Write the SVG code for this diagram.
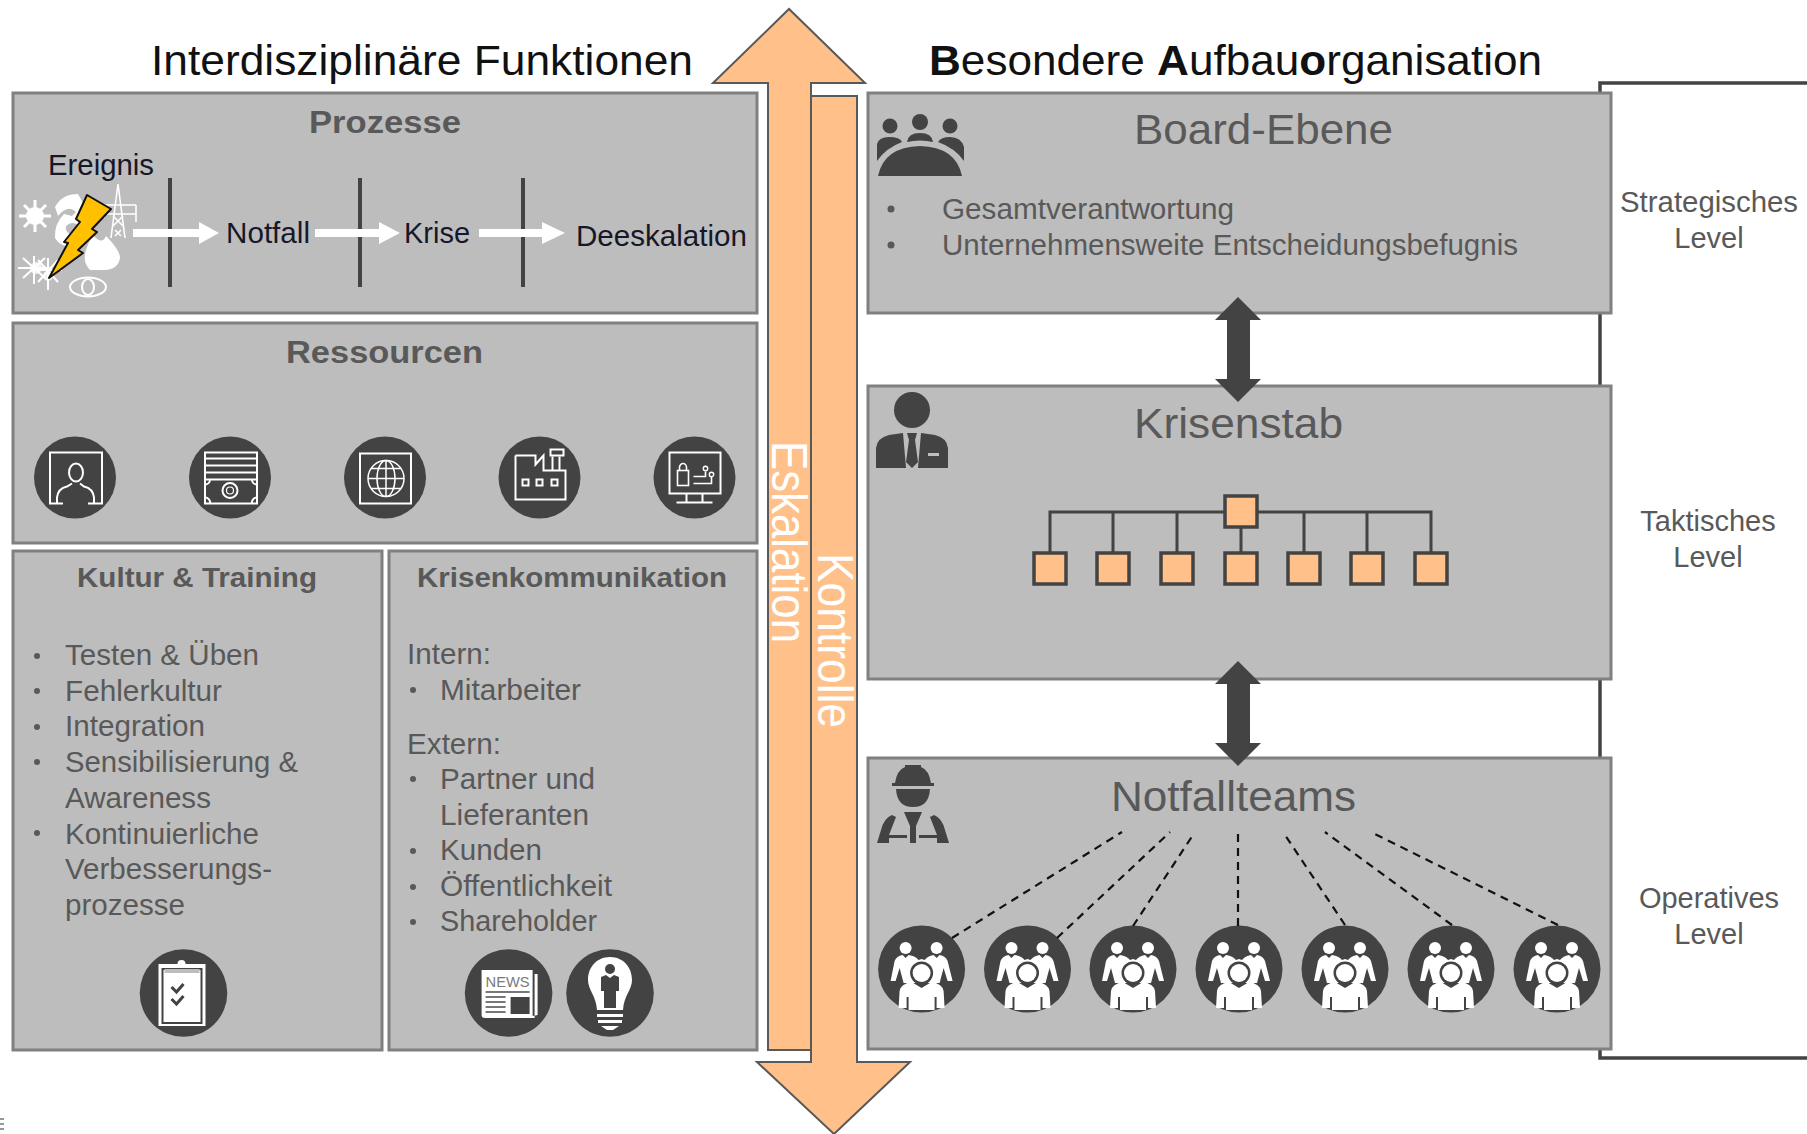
<svg xmlns="http://www.w3.org/2000/svg" xmlns:xlink="http://www.w3.org/1999/xlink" width="1807" height="1134" viewBox="0 0 1807 1134">
<style>
text{font-family:"Liberation Sans",Arial,sans-serif;fill:#595959}
.panel{fill:#bdbdbd;stroke:#808080;stroke-width:3}
.orange{fill:#ffc08a;stroke:#595959;stroke-width:2}
.dark{fill:#434343}
.ic{fill:none;stroke:#fff;stroke-width:2}
.head{font-size:32px;font-weight:bold}
.sub{font-size:28px;font-weight:bold}
.big{font-size:42px}
.body{font-size:29px}
.proc{font-size:29px;fill:#17172a}
.title{font-size:42px;fill:#111}
.esc{font-size:50px;fill:#fff}
.side{font-size:29px;text-anchor:middle}
.dash{fill:none;stroke:#111;stroke-width:2.2;stroke-dasharray:8 6}
.org{fill:none;stroke:#434343;stroke-width:3}
.box{fill:#ffc08a;stroke:#434343;stroke-width:3.5}
.vbar{fill:none;stroke:#434343;stroke-width:4}
.bull{fill:#595959}
</style>
<defs>
<g id="team">
<circle class="dark" r="43.5"/>
<g fill="#fff">
<circle cx="-16" cy="-21" r="6"/><circle cx="15" cy="-21" r="6"/>
<path d="M-31,12 L-27,-8 Q-25,-13 -19,-14 L-16,-11 L-13,-14 Q-6,-13 -3,-9 L0,-10 L3,-9 Q6,-13 12,-14 L15,-11 L18,-14 Q24,-13 26,-8 L31,12 H26 L22,-1 L18,14 H-18 L-22,-1 L-26,12 Z"/>
<path d="M-23,39 L-22,22 Q-21,15 -10,13 L0,19 L10,13 Q21,15 22,22 L23,39 H15 V28 H13 V41 H-13 V28 H-15 V39 Z"/>
</g>
<circle cy="4" r="11.5" fill="#434343"/><circle cy="4" r="9" fill="#fff"/>
</g>
</defs>

<g id="titel-links"><text class="title" x="151" y="75" textLength="542" lengthAdjust="spacingAndGlyphs">Interdisziplinäre Funktionen</text></g>
<g id="titel-rechts"><text class="title" x="929" y="75" textLength="613" lengthAdjust="spacingAndGlyphs"><tspan font-weight="bold">B</tspan>esondere <tspan font-weight="bold">A</tspan>ufbau<tspan font-weight="bold">o</tspan>rganisation</text></g>

<g id="bracket"><path d="M1807,83 H1600 V1058 H1807" fill="none" stroke="#434343" stroke-width="3.5"/></g>

<g id="prozesse">
<rect class="panel" x="13" y="93" width="744" height="220"/>
<text class="head" x="309" y="133" textLength="152" lengthAdjust="spacingAndGlyphs">Prozesse</text>
<text class="proc" x="48" y="175" textLength="106" lengthAdjust="spacingAndGlyphs">Ereignis</text>
<text class="proc" x="226" y="243" textLength="84" lengthAdjust="spacingAndGlyphs">Notfall</text>
<text class="proc" x="404" y="243" textLength="66" lengthAdjust="spacingAndGlyphs">Krise</text>
<text class="proc" x="576" y="246" textLength="171" lengthAdjust="spacingAndGlyphs">Deeskalation</text>
<path class="vbar" d="M170,178 V287 M360,178 V287 M523,178 V287"/>
<g id="ereignis-icon">
<g fill="none" stroke="#fff" stroke-width="3">
<path d="M19,216 H51 M35,200 V232 M24,205 L46,227 M46,205 L24,227"/>
<path d="M18,268 H50 M34,256 V284 M23,258 L45,278 M45,258 L23,278 M34,270 H62 M48,258 V290 M38,260 L58,282 M58,260 L38,282" stroke-width="2"/>
<path d="M118,184 L111,238 M118,184 L125,238 M104,205 H136 M106,214 H136 M104,205 V218 M136,205 V222 M113,226 L123,216 M123,226 L113,216 M115,236 L121,230 M121,236 L115,230" stroke-width="1.6"/>
</g>
<circle cx="35" cy="216" r="9" fill="#fff"/><circle cx="36" cy="268" r="6" fill="#fff" opacity=".8"/><circle cx="48" cy="276" r="5" fill="#fff" opacity=".8"/>
<path d="M78,194 Q62,194 55,207 L58,216 Q68,204 76,212 L72,216 L64,214 Q54,224 55,238 Q60,246 68,246 L74,236 Q64,232 66,226 Q72,220 80,226 L88,212 Z" fill="#fff"/>
<path d="M92,234 Q102,246 106,236 Q120,250 120,258 Q118,270 104,270 H90 Q82,262 86,250 Z" fill="#fff"/>
<ellipse cx="88" cy="287" rx="18" ry="9.5" fill="none" stroke="#fff" stroke-width="2"/><ellipse cx="88" cy="287" rx="6" ry="8" fill="none" stroke="#fff" stroke-width="2"/>
<path d="M87,195 L111,209 L92,229 L97,232 L78,250 L83,253 L49,278 L68,243 L64,242 L80,222 L76,219 Z" fill="#ffc000" stroke="#111" stroke-width="2" stroke-linejoin="round"/>
</g>
</g>

<g id="ressourcen">
<rect class="panel" x="13" y="323" width="744" height="220"/>
<text class="head" x="286" y="363" textLength="197" lengthAdjust="spacingAndGlyphs">Ressourcen</text>
<g id="res-person" transform="translate(75,477.5)"><circle class="dark" r="41"/><g class="ic"><path d="M-18,26 H-25 V-25 H27 V26 H19"/><ellipse cx="1" cy="-5" rx="7" ry="9"/><path d="M-18,26 V20 Q-17,11 -8,9 L-3,6 M19,26 V20 Q18,11 9,9 L5,6 M-18,26 H-12 M19,26 H13"/></g></g>
<g id="res-geld" transform="translate(230,477.5)"><circle class="dark" r="41"/><g class="ic"><rect x="-25" y="-25" width="52" height="51"/><path d="M-25,-19 H27 M-25,-12 H27 M-25,-5 H27 M-25,2 H27"/><circle cy="13" r="7.5"/><circle cy="13" r="3.5" stroke-width="1.2"/><path d="M-25,7 A5,5 0 0 0 -20,2 M27,7 A5,5 0 0 1 22,2 M-25,20 A5,5 0 0 1 -20,26 M27,20 A5,5 0 0 0 22,26"/></g></g>
<g id="res-globus" transform="translate(385,477.5)"><circle class="dark" r="41"/><g class="ic"><rect x="-25" y="-24" width="51" height="50"/><g stroke-width="1.5"><circle cx="1" cy="1" r="18"/><ellipse cx="1" cy="1" rx="9" ry="18"/><path d="M1,-17 V19 M-17,1 H19 M-14,-9 H16 M-14,11 H16"/></g></g></g>
<g id="res-fabrik" transform="translate(539.5,477.5)"><circle class="dark" r="41"/><g class="ic"><path d="M-24,-22 V22 H26 V-7 H13 V-21 M20,-21 V-7 M-24,-22 H-4 V-13 L4,-22 V-7 H13"/><rect x="11" y="-28" width="13" height="6"/><rect x="-17" y="2" width="6" height="6"/><rect x="-3" y="2" width="6" height="6"/><rect x="12" y="2" width="6" height="6"/></g></g>
<g id="res-monitor" transform="translate(694.5,477.5)"><circle class="dark" r="41"/><g class="ic"><rect x="-25" y="-25" width="51" height="41"/><path d="M-8,16 V25 M8,16 V25 M-18,25 H18"/><rect x="-17" y="-7" width="11" height="15" stroke-width="1.6"/><path d="M-15,-7 V-10 A3.5,4 0 0 1 -8,-10 V-7" stroke-width="1.6"/><path d="M-1,-1 H11 V-6 M-1,6 H17 V-1" stroke-width="1.6"/><circle cx="11" cy="-9" r="2.2" stroke-width="1.4"/><circle cx="17" cy="-3" r="2.2" stroke-width="1.4"/></g></g>
</g>

<g id="kultur">
<rect class="panel" x="13" y="551" width="369" height="499"/>
<text class="sub" x="77" y="587" textLength="240" lengthAdjust="spacingAndGlyphs">Kultur &amp; Training</text>
<g class="bull"><circle cx="37" cy="656" r="3"/><circle cx="37" cy="691" r="3"/><circle cx="37" cy="727" r="3"/><circle cx="37" cy="762" r="3"/><circle cx="37" cy="833" r="3"/></g>
<text class="body" x="65" y="665" textLength="194" lengthAdjust="spacingAndGlyphs">Testen &amp; Üben</text>
<text class="body" x="65" y="701" textLength="157" lengthAdjust="spacingAndGlyphs">Fehlerkultur</text>
<text class="body" x="65" y="736" textLength="140" lengthAdjust="spacingAndGlyphs">Integration</text>
<text class="body" x="65" y="772" textLength="233" lengthAdjust="spacingAndGlyphs">Sensibilisierung &amp;</text>
<text class="body" x="65" y="808" textLength="146" lengthAdjust="spacingAndGlyphs">Awareness</text>
<text class="body" x="65" y="844" textLength="194" lengthAdjust="spacingAndGlyphs">Kontinuierliche</text>
<text class="body" x="65" y="879" textLength="207" lengthAdjust="spacingAndGlyphs">Verbesserungs-</text>
<text class="body" x="65" y="915" textLength="120" lengthAdjust="spacingAndGlyphs">prozesse</text>
<g id="icon-klemmbrett" transform="translate(183.5,993)"><circle class="dark" r="43.8"/>
<rect x="-25" y="-29" width="47" height="62" fill="#fff"/>
<rect x="-21" y="-24" width="39" height="54" fill="none" stroke="#434343" stroke-width="2"/>
<rect x="-18" y="-21" width="33" height="48" fill="#fff"/>
<path d="M-19,-24 H16 V-20 H-19 Z" fill="#bdbdbd"/>
<circle cx="-2" cy="-29" r="4" fill="#fff"/>
<path d="M-12,-6 L-7,-1 L0,-9 M-12,6 L-7,11 L0,3" fill="none" stroke="#434343" stroke-width="3"/></g>
</g>

<g id="krisenkommunikation">
<rect class="panel" x="389" y="551" width="368" height="499"/>
<text class="sub" x="417" y="587" textLength="310" lengthAdjust="spacingAndGlyphs">Krisenkommunikation</text>
<g class="bull"><circle cx="413" cy="690" r="3"/><circle cx="413" cy="779" r="3"/><circle cx="413" cy="851" r="3"/><circle cx="413" cy="887" r="3"/><circle cx="413" cy="922" r="3"/></g>
<text class="body" x="407" y="664" textLength="84" lengthAdjust="spacingAndGlyphs">Intern:</text>
<text class="body" x="440" y="700" textLength="141" lengthAdjust="spacingAndGlyphs">Mitarbeiter</text>
<text class="body" x="407" y="754" textLength="94" lengthAdjust="spacingAndGlyphs">Extern:</text>
<text class="body" x="440" y="789" textLength="155" lengthAdjust="spacingAndGlyphs">Partner und</text>
<text class="body" x="440" y="825" textLength="149" lengthAdjust="spacingAndGlyphs">Lieferanten</text>
<text class="body" x="440" y="860" textLength="102" lengthAdjust="spacingAndGlyphs">Kunden</text>
<text class="body" x="440" y="896" textLength="172" lengthAdjust="spacingAndGlyphs">Öffentlichkeit</text>
<text class="body" x="440" y="931" textLength="157" lengthAdjust="spacingAndGlyphs">Shareholder</text>
<g id="icon-news" transform="translate(508.6,993)"><circle class="dark" r="43.8"/>
<path d="M-27,-23 H24 V23 L29,22 V-19 H26 V25 H-24 Q-27,25 -27,22 Z" fill="#fff"/>
<text x="-23" y="-6" font-size="15" textLength="44" lengthAdjust="spacingAndGlyphs" style="fill:#7a7a7a">NEWS</text>
<path d="M-23,-1 H21 M-23,4 H-3 M-23,9 H-3 M-23,14 H-3 M-23,19 H-3" stroke="#777" stroke-width="2"/>
<rect x="2" y="4" width="19" height="17" fill="#434343"/></g>
<g id="icon-gluehbirne" transform="translate(610,993)"><circle class="dark" r="43.8"/>
<path d="M0,-36 C14,-36 22,-25 22,-13 C22,-3 14,2 13,17 H-13 C-14,2 -22,-3 -22,-13 C-22,-25 -14,-36 0,-36 Z" fill="#fff"/>
<path d="M-13,21 H13 V24 H-13 Z M-12,27 H12 V30 H-12 Z M-9,33 H9 L3,37 H-3 Z" fill="#fff"/>
<circle cy="-24" r="5" fill="#434343"/>
<path d="M-9,-16 L-4,-18 L0,-15 L4,-18 L9,-16 V-2 H6 V15 H-6 V-2 H-9 Z" fill="#434343"/></g>
</g>

<g id="pfeil-kontrolle">
<path class="orange" d="M811,96 H857 V1062 H910 L834,1134 L757,1062 H811 Z"/>
<text class="esc" transform="translate(818,553) rotate(90)" textLength="175" lengthAdjust="spacingAndGlyphs">Kontrolle</text>
</g>
<g id="pfeil-eskalation">
<path class="orange" d="M768,1050 V83 H713 L789,9 L865,83 H811 V1050 Z"/>
<text class="esc" transform="translate(772,441) rotate(90)" textLength="202" lengthAdjust="spacingAndGlyphs">Eskalation</text>
</g>

<g id="board">
<rect class="panel" x="868" y="93" width="743" height="220"/>
<text class="big" x="1134" y="144" textLength="259" lengthAdjust="spacingAndGlyphs">Board-Ebene</text>
<g class="bull"><circle cx="891" cy="209" r="3.5"/><circle cx="891" cy="245" r="3.5"/></g>
<text class="body" x="942" y="219" textLength="292" lengthAdjust="spacingAndGlyphs">Gesamtverantwortung</text>
<text class="body" x="942" y="255" textLength="576" lengthAdjust="spacingAndGlyphs">Unternehmensweite Entscheidungsbefugnis</text>
<g id="icon-board" class="dark">
<circle cx="890" cy="126" r="7.5"/><circle cx="920" cy="122" r="8"/><circle cx="950" cy="126" r="7.5"/>
<path d="M877,161 V144 Q879,137 889,137 Q900,137 902,142 Q886,148 877,161 Z"/>
<path d="M907,142 Q908,133 920,133 Q932,133 933,142 Q920,139 907,142 Z"/>
<path d="M964,161 V147 Q961,137 950,137 Q941,137 938,142 Q955,148 964,161 Z"/>
<path d="M878,176 Q884,147 920,146 Q956,147 962,176 Z"/>
</g>
</g>

<g id="krisenstab">
<rect class="panel" x="868" y="386" width="743" height="293"/>
<text class="big" x="1134" y="438" textLength="209" lengthAdjust="spacingAndGlyphs">Krisenstab</text>
<g id="icon-person" class="dark">
<circle cx="912" cy="410" r="18"/>
<path d="M876,468 V448 Q877,438 889,435 L903,433 L906,468 Z"/>
<path d="M948,468 V448 Q947,438 935,435 L921,433 L918,468 Z"/>
<path d="M907,433 H917 L915,440 L918,462 L912,468 L906,462 L909,440 Z"/>
<rect x="928" y="453" width="11" height="3" fill="#bdbdbd"/>
</g>
</g>

<g id="notfallteams">
<rect class="panel" x="868" y="758" width="743" height="291"/>
<text class="big" x="1111" y="811" textLength="245" lengthAdjust="spacingAndGlyphs">Notfallteams</text>
<g id="icon-helm" class="dark">
<path d="M895,783 Q897,770 905,767 V765 H921 V767 Q929,770 931,783 H934 V786 H892 V783 Z"/>
<path d="M896,789 H930 Q929,807 913,807 Q897,807 896,789 Z"/>
<path d="M892,815 Q884,818 881,830 L877,843 H889 V838 H907 V835 H889 L896,817 Z"/>
<path d="M934,815 Q942,818 945,830 L949,843 H937 V838 H919 V835 H937 L930,817 Z"/>
<path d="M904,812 H922 L916,826 V843 H910 V826 Z"/>
</g>
<use href="#team" x="921.6" y="969"/>
<use href="#team" x="1027.5" y="969"/>
<use href="#team" x="1133" y="969"/>
<use href="#team" x="1239" y="969"/>
<use href="#team" x="1345" y="969"/>
<use href="#team" x="1451" y="969"/>
<use href="#team" x="1557" y="969"/>
</g>

<g id="level-labels">
<text class="side" x="1709" y="212" textLength="178" lengthAdjust="spacingAndGlyphs">Strategisches</text>
<text class="side" x="1709" y="248">Level</text>
<text class="side" x="1708" y="531">Taktisches</text>
<text class="side" x="1708" y="567">Level</text>
<text class="side" x="1709" y="908">Operatives</text>
<text class="side" x="1709" y="944">Level</text>
</g>

<g id="connectors">
<g fill="#434343">
<path d="M1238,297 L1261,320 H1250 V379 H1261 L1238,402 L1215,379 H1227 V320 H1215 Z"/>
<path d="M1238,661 L1261,684 H1250 V743 H1261 L1238,766 L1215,743 H1227 V684 H1215 Z"/>
</g>
<g fill="#fff">
<path d="M133,229 H199 V222 L219,233 L199,244 V237 H133 Z"/>
<path d="M315,229 H379 V222 L400,233 L379,244 V237 H315 Z"/>
<path d="M479,229 H542 V222 L565,233 L542,244 V237 H479 Z"/>
</g>
<path class="org" d="M1050,552 V512 H1431 V552 M1113,512 V552 M1177,512 V552 M1241,527 V552 M1304,512 V552 M1367,512 V552"/>
<g class="box">
<rect x="1225" y="496" width="32" height="31"/>
<rect x="1034" y="553" width="32" height="31"/>
<rect x="1097" y="553" width="32" height="31"/>
<rect x="1161" y="553" width="32" height="31"/>
<rect x="1225" y="553" width="32" height="31"/>
<rect x="1288" y="553" width="32" height="31"/>
<rect x="1351" y="553" width="32" height="31"/>
<rect x="1415" y="553" width="32" height="31"/>
</g>
<g class="dash">
<path d="M952,938 L1122,832"/>
<path d="M1057,938 L1170,832"/>
<path d="M1133,926 L1193,835"/>
<path d="M1238,926 V833"/>
<path d="M1345,925 L1285,835"/>
<path d="M1452,925 L1325,832"/>
<path d="M1558,925 L1371,832"/>
</g>
</g>
<g id="rand-fragment"><path d="M0,1119 H4 M0,1124 H4 M0,1129 H4" stroke="#777" stroke-width="1.5"/></g>
</svg>
